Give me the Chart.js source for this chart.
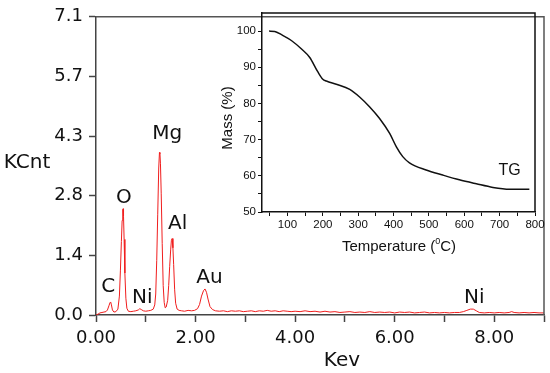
<!DOCTYPE html>
<html>
<head>
<meta charset="utf-8">
<script src="https://cdn.jsdelivr.net/npm/chart.js@4.4.1/dist/chart.umd.min.js"></script>
<style>
  html, body { margin: 0; padding: 0; background: #fff; }
  #wrap { position: relative; width: 550px; height: 373px; }
  #main { position: absolute; left: 0; top: 0; }
  #inset { position: absolute; left: 200px; top: 0; }
</style>
</head>
<body>
<div id="wrap">
  <canvas id="main" width="550" height="373"></canvas>
  <canvas id="inset" width="350" height="270"></canvas>
</div>
<script>
// EDS spectrum
var kev = [0.00, 0.04, 0.08, 0.12, 0.16, 0.20, 0.23, 0.26, 0.28, 0.295, 0.31, 0.33, 0.36, 0.40, 0.44,
  0.47, 0.49, 0.51, 0.525, 0.537, 0.545, 0.553, 0.565, 0.58, 0.60, 0.62, 0.65, 0.70, 0.75, 0.80,
  0.85, 0.88, 0.91, 0.95, 1.00, 1.05, 1.10, 1.15, 1.18, 1.20, 1.22, 1.24, 1.26, 1.275, 1.285,
  1.295, 1.31, 1.33, 1.35, 1.37, 1.39, 1.41, 1.44, 1.46, 1.48, 1.50, 1.515, 1.53, 1.545, 1.56,
  1.58, 1.60, 1.63, 1.67, 1.72, 1.78, 1.85, 1.92, 1.98, 2.04, 2.08, 2.12, 2.16, 2.19, 2.22,
  2.25, 2.29, 2.34, 2.40, 2.48, 2.56, 2.64, 2.72, 2.80, 2.88, 2.96, 3.04, 3.12, 3.20, 3.28,
  3.36, 3.44, 3.52, 3.60, 3.68, 3.76, 3.84, 3.92, 4.00, 4.10, 4.20, 4.30, 4.40, 4.50, 4.60,
  4.70, 4.80, 4.90, 5.00, 5.10, 5.20, 5.30, 5.40, 5.50, 5.60, 5.70, 5.80, 5.90, 6.00, 6.10,
  6.20, 6.30, 6.40, 6.50, 6.60, 6.70, 6.80, 6.90, 7.00, 7.10, 7.20, 7.30, 7.38, 7.45, 7.52,
  7.58, 7.64, 7.70, 7.80, 7.90, 8.00, 8.10, 8.20, 8.30, 8.35, 8.40, 8.50, 8.60, 8.70, 8.80,
  8.90, 9.00];
var kcnt = [0.00, 0.02, 0.05, 0.06, 0.07, 0.08, 0.12, 0.22, 0.29, 0.31, 0.24, 0.12, 0.07, 0.08, 0.14,
  0.45, 1.05, 1.75, 2.25, 2.50, 2.53, 2.35, 1.80, 1.00, 0.40, 0.16, 0.09, 0.08, 0.09, 0.10,
  0.12, 0.15, 0.13, 0.10, 0.09, 0.10, 0.11, 0.14, 0.24, 0.50, 1.30, 2.40, 3.50, 3.87, 3.84,
  3.60, 2.90, 1.70, 0.70, 0.30, 0.17, 0.19, 0.35, 0.70, 1.15, 1.55, 1.78, 1.82, 1.60, 1.20,
  0.60, 0.28, 0.14, 0.11, 0.10, 0.09, 0.11, 0.10, 0.11, 0.15, 0.25, 0.45, 0.58, 0.62, 0.54,
  0.38, 0.20, 0.13, 0.10, 0.09, 0.10, 0.08, 0.10, 0.09, 0.10, 0.08, 0.09, 0.10, 0.08, 0.10,
  0.09, 0.11, 0.09, 0.10, 0.08, 0.10, 0.09, 0.08, 0.09, 0.08, 0.10, 0.08, 0.09, 0.07, 0.09,
  0.07, 0.08, 0.06, 0.07, 0.08, 0.06, 0.07, 0.06, 0.08, 0.06, 0.07, 0.06, 0.07, 0.05, 0.07,
  0.06, 0.07, 0.05, 0.06, 0.07, 0.05, 0.06, 0.05, 0.06, 0.05, 0.06, 0.06, 0.08, 0.11, 0.14,
  0.14, 0.10, 0.06, 0.05, 0.06, 0.05, 0.06, 0.05, 0.06, 0.08, 0.06, 0.05, 0.06, 0.05, 0.06,
  0.05, 0.05];

// element labels (baseline anchor in data units)
var peakNames = ['C', 'O', 'Ni', 'Mg', 'Al', 'Au', 'Ni'];
var peakLabelKev = [0.245, 0.56, 0.93, 1.43, 1.64, 2.28, 7.6];
var peakLabelKcnt = [0.545, 2.67, 0.28, 4.2, 2.05, 0.77, 0.28];

var xTickVals = [0, 1, 2, 3, 4, 5, 6, 7, 8, 9];
var xTickLabels = ['0.00', '', '2.00', '', '4.00', '', '6.00', '', '8.00', ''];
var yTickVals = [0, 1.42, 2.84, 4.26, 5.68, 7.1];
var yTickLabels = ['0.0', '1.4', '2.8', '4.3', '5.7', '7.1'];

// TG inset
var tempC = [48, 64, 83, 111, 139, 163, 186, 200, 210, 238, 276, 304, 332, 360, 389, 408, 426,
  445, 492, 539, 586, 634, 681, 728, 784];
var massPct = [100, 99.9, 99.0, 97.4, 95.1, 92.7, 88.7, 86.7, 86.2, 85.3, 83.9, 81.8, 79.1, 75.9,
  71.7, 68.0, 65.3, 63.6, 61.6, 60.2, 58.9, 57.8, 56.8, 56.3, 56.3];
var tempTicks = [50, 100, 150, 200, 250, 300, 350, 400, 450, 500, 550, 600, 650, 700, 750, 800];
var massTicks = [50, 55, 60, 65, 70, 75, 80, 85, 90, 95, 100];

var mainFont = '"DejaVu Sans", sans-serif';
var insetFont = '"Liberation Sans", Arial, sans-serif';

var mainDecor = {
  id: 'mainDecor',
  afterDraw: function (chart) {
    var ctx = chart.ctx, a = chart.chartArea, xs = chart.scales.x, ys = chart.scales.y;
    ctx.save();
    ctx.strokeStyle = '#555';
    ctx.lineWidth = 1.5;
    ctx.beginPath();
    ctx.moveTo(a.left, a.top);
    ctx.lineTo(a.right, a.top);
    ctx.lineTo(a.right, a.bottom);
    ctx.stroke();
    ctx.fillStyle = '#111';
    ctx.font = '20px ' + mainFont;
    ctx.textAlign = 'center';
    ctx.textBaseline = 'alphabetic';
    for (var i = 0; i < peakNames.length; i++) {
      ctx.fillText(peakNames[i], xs.getPixelForValue(peakLabelKev[i]), ys.getPixelForValue(peakLabelKcnt[i]));
    }
    ctx.fillText('KCnt', 27, 168);
    ctx.fillText('Kev', 342, 366);
    ctx.restore();
  }
};

new Chart(document.getElementById('main'), {
  type: 'scatter',
  data: {
    datasets: [{
      data: kev.map(function (x, i) { return { x: x, y: kcnt[i] }; }),
      showLine: true,
      borderColor: 'rgb(240,30,30)',
      borderWidth: 1,
      pointRadius: 0,
      tension: 0
    }]
  },
  options: {
    responsive: false,
    animation: false,
    layout: { padding: { top: 9, right: 3, left: 0, bottom: 0 } },
    plugins: { legend: { display: false }, tooltip: { enabled: false } },
    scales: {
      x: {
        type: 'linear', min: 0, max: 9,
        afterFit: function (s) { s.height = 58; },
        afterBuildTicks: function (s) { s.ticks = xTickVals.map(function (v) { return { value: v }; }); },
        ticks: {
          autoSkip: false, maxRotation: 0, padding: 6, color: '#111',
          font: { family: mainFont, size: 18 },
          callback: function (v, i) { return xTickLabels[i]; }
        },
        grid: { drawOnChartArea: false, tickLength: 7, tickColor: '#444', tickWidth: 1.5 },
        border: { color: '#444', width: 1.5 }
      },
      y: {
        min: 0, max: 7.1,
        afterFit: function (s) { s.width = 96; },
        afterBuildTicks: function (s) { s.ticks = yTickVals.map(function (v) { return { value: v }; }); },
        ticks: {
          autoSkip: false, padding: 6, color: '#111',
          font: { family: mainFont, size: 18 },
          callback: function (v, i) { return yTickLabels[i]; }
        },
        grid: { drawOnChartArea: false, tickLength: 7, tickColor: '#444', tickWidth: 1.5 },
        border: { color: '#444', width: 1.5 }
      }
    }
  },
  plugins: [mainDecor]
});

var insetDecor = {
  id: 'insetDecor',
  afterDraw: function (chart) {
    var ctx = chart.ctx, a = chart.chartArea, xs = chart.scales.x, ys = chart.scales.y;
    ctx.save();
    ctx.strokeStyle = '#111';
    ctx.lineWidth = 1.5;
    ctx.beginPath();
    ctx.moveTo(a.left, a.top);
    ctx.lineTo(a.right, a.top);
    ctx.lineTo(a.right, a.bottom);
    ctx.stroke();
    ctx.fillStyle = '#111';
    ctx.textBaseline = 'alphabetic';
    // TG label
    ctx.font = '16px ' + insetFont;
    ctx.textAlign = 'center';
    ctx.fillText('TG', xs.getPixelForValue(728), ys.getPixelForValue(60.2));
    // y title
    ctx.font = '15px ' + insetFont;
    ctx.save();
    ctx.translate(32, 118);
    ctx.rotate(-Math.PI / 2);
    ctx.fillText('Mass (%)', 0, 0);
    ctx.restore();
    // x title with superscript
    var p1 = 'Temperature (', sup = '0', p2 = 'C)';
    ctx.font = '15px ' + insetFont;
    var w1 = ctx.measureText(p1).width, w3 = ctx.measureText(p2).width;
    ctx.font = '9px ' + insetFont;
    var w2 = ctx.measureText(sup).width;
    var x0 = 199 - (w1 + w2 + w3) / 2;
    ctx.textAlign = 'left';
    ctx.font = '15px ' + insetFont;
    ctx.fillText(p1, x0, 251);
    ctx.font = '9px ' + insetFont;
    ctx.fillText(sup, x0 + w1, 244);
    ctx.font = '15px ' + insetFont;
    ctx.fillText(p2, x0 + w1 + w2, 251);
    ctx.restore();
  }
};

new Chart(document.getElementById('inset'), {
  type: 'scatter',
  data: {
    datasets: [{
      data: tempC.map(function (t, i) { return { x: t, y: massPct[i] }; }),
      showLine: true,
      borderColor: '#111',
      borderWidth: 1.5,
      pointRadius: 0,
      cubicInterpolationMode: 'monotone'
    }]
  },
  options: {
    responsive: false,
    animation: false,
    layout: { padding: { top: 13, right: 15, left: 0, bottom: 0 } },
    plugins: { legend: { display: false }, tooltip: { enabled: false } },
    scales: {
      x: {
        type: 'linear', min: 28, max: 800,
        afterFit: function (s) { s.height = 58; },
        afterBuildTicks: function (s) { s.ticks = tempTicks.map(function (v) { return { value: v }; }); },
        ticks: {
          autoSkip: false, maxRotation: 0, padding: 2, color: '#111',
          font: { family: insetFont, size: 11.5 },
          callback: function (v) { return v % 100 === 0 ? String(v) : ''; }
        },
        grid: { drawOnChartArea: false, tickLength: 4, tickColor: '#111' },
        border: { color: '#111', width: 1.5 }
      },
      y: {
        min: 50, max: 105,
        afterFit: function (s) { s.width = 62; },
        afterBuildTicks: function (s) { s.ticks = massTicks.map(function (v) { return { value: v }; }); },
        ticks: {
          autoSkip: false, padding: 2, color: '#111',
          font: { family: insetFont, size: 11.5 },
          callback: function (v) { return v % 10 === 0 ? String(v) : ''; }
        },
        grid: { drawOnChartArea: false, tickLength: 4, tickColor: '#111' },
        border: { color: '#111', width: 1.5 }
      }
    }
  },
  plugins: [insetDecor]
});
</script>
</body>
</html>
